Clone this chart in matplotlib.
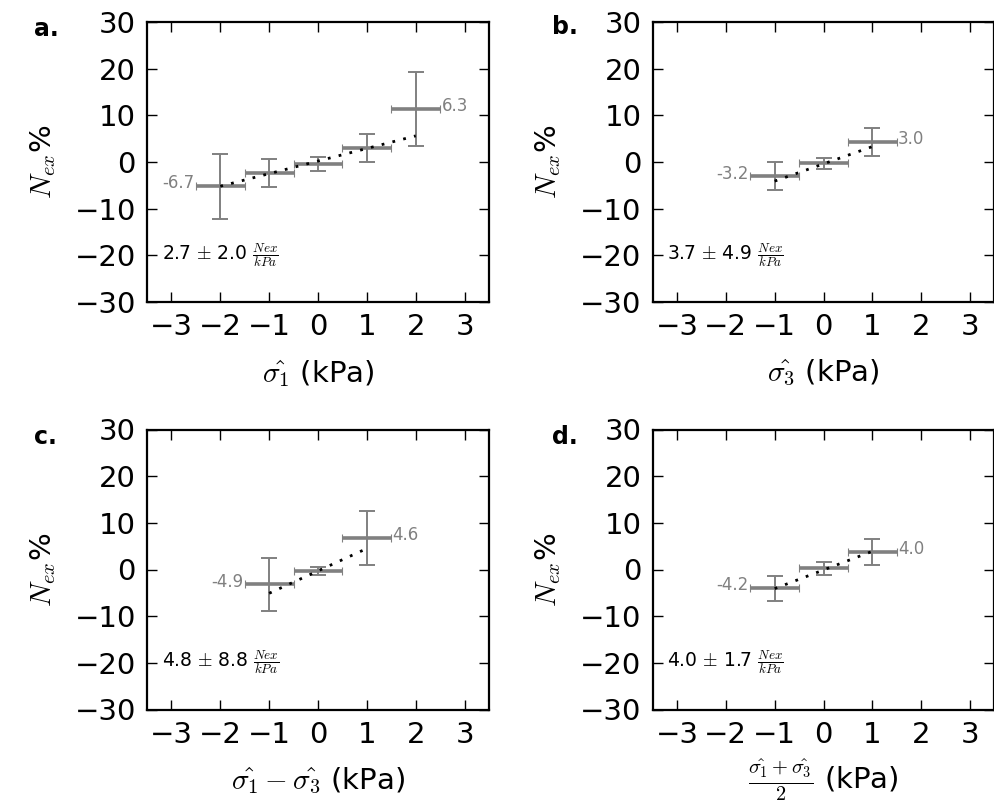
import matplotlib
matplotlib.use("Agg")
import matplotlib.pyplot as plt
import numpy as np

plt.rcParams['mathtext.fontset'] = 'cm'
plt.rcParams['font.family'] = ['DejaVu Sans']

# ---- data ----
panel_letters = ['a.', 'b.', 'c.', 'd.']
xlabels = [r'$\hat{\sigma_1}$ (kPa)',
           r'$\hat{\sigma_3}$ (kPa)',
           r'$\hat{\sigma_1} - \hat{\sigma_3}$ (kPa)',
           r'$\frac{\hat{\sigma_1} + \hat{\sigma_3}}{2}$ (kPa)']

bins_a = [-2, -1, 0, 1, 2]
mean_a = [-5.2, -2.4, -0.4, 3.0, 11.3]
err_a = [7.0, 3.0, 1.5, 2.9, 7.9]

bins_b = [-1, 0, 1]
mean_b = [-3.1, -0.3, 4.3]
err_b = [3.0, 1.2, 3.0]

bins_c = [-1, 0, 1]
mean_c = [-3.2, -0.3, 6.8]
err_c = [5.6, 0.8, 5.8]

bins_d = [-1, 0, 1]
mean_d = [-4.0, 0.3, 3.8]
err_d = [2.7, 1.4, 2.8]

fit_slopes = [2.7, 3.7, 4.8, 4.0]
fit_intercepts = [0.2, -0.4, -0.3, -0.1]
fit_slope_errs = [2.0, 4.9, 8.8, 1.7]
end_labels_left = ['-6.7', '-3.2', '-4.9', '-4.2']
end_labels_right = ['6.3', '3.0', '4.6', '4.0']

bins_all = [bins_a, bins_b, bins_c, bins_d]
means_all = [mean_a, mean_b, mean_c, mean_d]
errs_all = [err_a, err_b, err_c, err_d]

xticks = [-3, -2, -1, 0, 1, 2, 3]
yticks = [-30, -20, -10, 0, 10, 20, 30]

# ---- figure ----
W, H = 994, 809
fig = plt.figure(figsize=(W / 100, H / 100), dpi=100)

# axes boxes in pixels: left, top, right, bottom
boxes = [(147, 22, 489, 302), (652.5, 22, 994.5, 302),
         (147, 429.5, 489, 709.5), (652.5, 429.5, 994.5, 709.5)]
letter_pos = [(34, 29), (552, 27), (34, 437), (552, 437)]
xlabel_pads = [12, 12, 12, 6]

gray = '#808080'
lightgray = '#bdbdbd'
FS = 21

for i in range(4):
    l, t, r, b = boxes[i]
    ax = fig.add_axes([l / W, 1 - b / H, (r - l) / W, (b - t) / H])
    x = np.array(bins_all[i], dtype=float)
    y = np.array(means_all[i], dtype=float)
    e = np.array(errs_all[i], dtype=float)

    # horizontal bin bars
    hb = ax.errorbar(x, y, xerr=0.5, fmt='none', ecolor=gray, elinewidth=2.6,
                     capsize=3, capthick=0.8, zorder=2)
    for cap in hb[1]:
        cap.set_color(lightgray)
    # vertical error bars
    ax.errorbar(x, y, yerr=e, fmt='none', ecolor=gray, elinewidth=1.4,
                capsize=5.5, capthick=1.4, zorder=2)

    # fit line
    xf = np.array([x.min(), x.max()])
    yf = fit_slopes[i] * xf + fit_intercepts[i]
    ax.plot(xf, yf, color='black', linestyle=(0, (1, 3)), lw=2, zorder=3)

    # end labels
    ax.annotate(end_labels_left[i], (x[0] - 0.5, y[0]), xytext=(-1, 2),
                textcoords='offset points', ha='right', va='center',
                color=gray, fontsize=12)
    ax.annotate(end_labels_right[i], (x[-1] + 0.5, y[-1]), xytext=(1, 2),
                textcoords='offset points', ha='left', va='center',
                color=gray, fontsize=12)

    # slope annotation
    ax.text(-3.2, -20, r'%.1f $\pm$ %.1f $\frac{Nex}{kPa}$' % (fit_slopes[i], fit_slope_errs[i]),
            ha='left', va='center', fontsize=13.5, color='black')

    ax.set_xlim(-3.5, 3.5)
    ax.set_ylim(-30, 30)
    ax.set_xticks(xticks)
    ax.set_yticks(yticks)
    ax.tick_params(direction='in', top=True, right=True, length=7, width=1,
                   labelsize=FS, pad=8)
    for s in ax.spines.values():
        s.set_linewidth(1.6)
    ax.set_xlabel(xlabels[i], fontsize=FS, labelpad=xlabel_pads[i])
    ax.set_ylabel(r'$N_{ex}$%', fontsize=FS, labelpad=12)

    lx, ly = letter_pos[i]
    fig.text(lx / W, 1 - ly / H, panel_letters[i], fontsize=17, fontweight='bold',
             ha='left', va='center')

fig.savefig('out.png', dpi=100)
